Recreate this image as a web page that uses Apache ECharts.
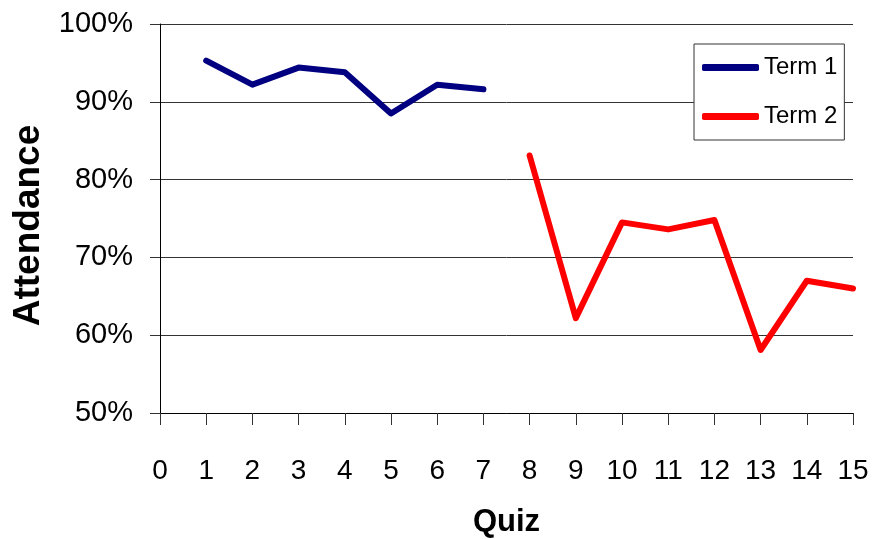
<!DOCTYPE html>
<html>
<head>
<meta charset="utf-8">
<script src="https://cdn.jsdelivr.net/npm/echarts@6/dist/echarts.min.js"></script>
<style>html,body{margin:0;padding:0;background:#fff;}#c{width:872px;height:539px;}</style>
</head>
<body>
<div id="c"></div>
<script>
const term1Quiz = [1, 2, 3, 4, 5, 6, 7];
const term1Attendance = [95.3, 92.2, 94.4, 93.8, 88.5, 92.2, 91.6];
const term2Quiz = [8, 9, 10, 11, 12, 13, 14, 15];
const term2Attendance = [83.1, 62.2, 74.5, 73.6, 74.8, 58.1, 67.0, 66.0];
const seriesNames = ['Term 1', 'Term 2'];

const font = "'Liberation Sans', Arial, sans-serif";
const chart = echarts.init(document.getElementById('c'), null, {renderer: 'canvas'});
chart.setOption({
  animation: false,
  backgroundColor: '#fff',
  grid: {left: 160, right: 19, top: 24, bottom: 126, containLabel: false, outerBoundsMode: 'none'},
  legend: {
    data: seriesNames,
    orient: 'vertical',
    left: 694, top: 44,
    padding: [7, 7, 7, 8],
    itemGap: 16,
    itemWidth: 57, itemHeight: 7,
    icon: 'roundRect',
    backgroundColor: '#fff',
    borderColor: '#333', borderWidth: 1,
    textStyle: {fontFamily: font, fontSize: 24, color: '#000', lineHeight: 33}
  },
  xAxis: {
    type: 'value', min: 0, max: 15, interval: 1,
    name: 'Quiz', nameLocation: 'middle', nameGap: 94,
    nameTextStyle: {fontFamily: font, fontWeight: 'bold', fontSize: 31, color: '#000'},
    axisLine: {show: true, lineStyle: {color: '#000', width: 1}},
    axisTick: {show: true, length: 12, lineStyle: {color: '#333'}},
    axisLabel: {margin: 44, fontFamily: font, fontSize: 28, color: '#000'},
    splitLine: {show: false}
  },
  yAxis: {
    type: 'value', min: 50, max: 100, interval: 10,
    name: 'Attendance', nameLocation: 'middle', nameGap: 113,
    nameTextStyle: {fontFamily: font, fontWeight: 'bold', fontSize: 37, color: '#000', padding: [0, 14, 0, 0]},
    axisLine: {show: true, lineStyle: {color: '#000', width: 1}},
    axisTick: {show: true, length: 10, lineStyle: {color: '#333'}},
    axisLabel: {margin: 27, fontFamily: font, fontSize: 29, color: '#000', formatter: '{value}%'},
    splitLine: {show: true, lineStyle: {color: '#333', width: 1}}
  },
  series: [
    {
      name: seriesNames[0], type: 'line', symbol: 'none',
      data: term1Quiz.map((q, i) => [q, term1Attendance[i]]),
      itemStyle: {color: '#000080'},
      lineStyle: {color: '#000080', width: 6, cap: 'round', join: 'round'}
    },
    {
      name: seriesNames[1], type: 'line', symbol: 'none',
      data: term2Quiz.map((q, i) => [q, term2Attendance[i]]),
      itemStyle: {color: '#ff0000'},
      lineStyle: {color: '#ff0000', width: 6, cap: 'round', join: 'round'}
    }
  ]
});
</script>
</body>
</html>
